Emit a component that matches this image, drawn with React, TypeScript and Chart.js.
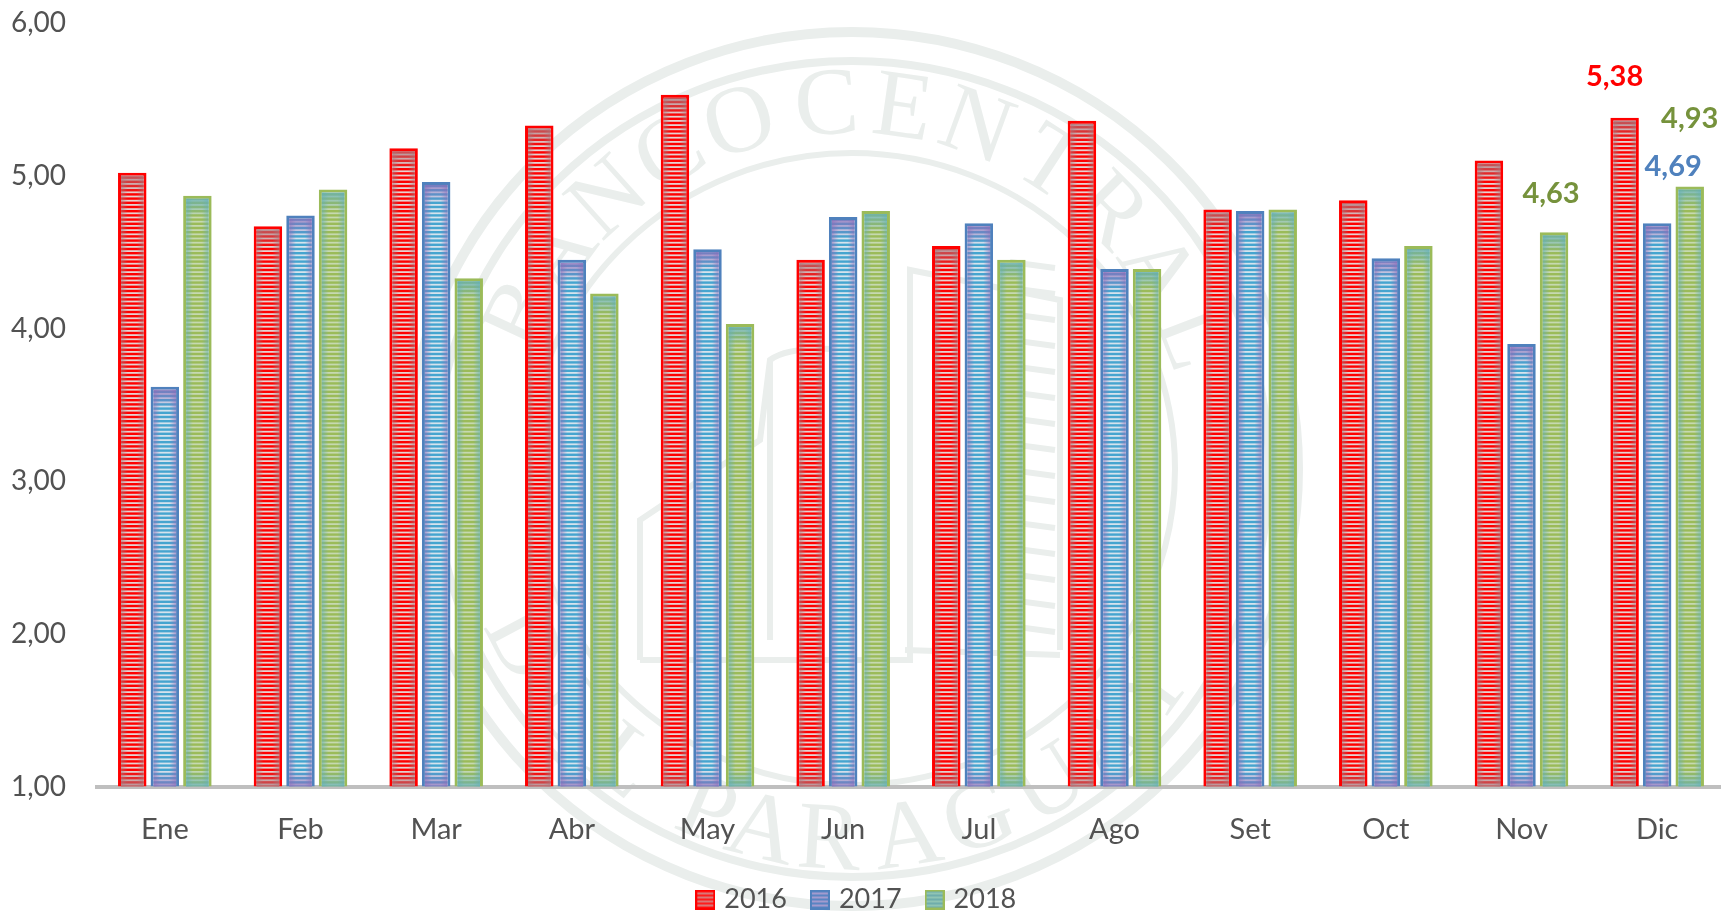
import React, { useEffect, useRef } from "react";
import { Chart, registerables } from "chart.js";

Chart.register(...registerables);

const categories = ["Ene", "Feb", "Mar", "Abr", "May", "Jun", "Jul", "Ago", "Set", "Oct", "Nov", "Dic"];
const years = ["2016", "2017", "2018"];
const values2016 = [5.02, 4.67, 5.18, 5.33, 5.53, 4.45, 4.54, 5.36, 4.78, 4.84, 5.10, 5.38];
const values2017 = [3.62, 4.74, 4.96, 4.45, 4.52, 4.73, 4.69, 4.39, 4.77, 4.46, 3.90, 4.69];
const values2018 = [4.87, 4.91, 4.33, 4.23, 4.03, 4.77, 4.45, 4.39, 4.78, 4.54, 4.63, 4.93];
const yTicks = [1, 2, 3, 4, 5, 6];

const palette = [
  { border: "#ff0000", stripe: "#ff0000", light: "#e6d2d2", shade: "170,120,125", swatch: "#ff1c1c", swatchLine: "#d87878" },
  { border: "#4f81bd", stripe: "#45a5cf", light: "#d5e3ed", shade: "140,110,185", swatch: "#5a84c2", swatchLine: "#a39bce" },
  { border: "#9bbb59", stripe: "#9bbb59", light: "#c6d9b0", shade: "100,175,185", swatch: "#6fadab", swatchLine: "#8fc4b4" },
];

const callouts = [
  { dataset: 0, index: 11, dx: -10, dy: -41, color: "#ff0000" },
  { dataset: 2, index: 11, dx: 0, dy: -68, color: "#76923c" },
  { dataset: 1, index: 11, dx: 16, dy: -57, color: "#4f81bd" },
  { dataset: 2, index: 10, dx: -3, dy: -39, color: "#76923c" },
];

const sealTop = [["B", -65], ["A", -54], ["N", -42], ["C", -30], ["O", -18], ["C", -4], ["E", 8], ["N", 20], ["T", 33], ["R", 45], ["A", 57], ["L", 69]];
const sealBottom = [["D", -62], ["E", -50], ["L", -38], ["P", -23], ["A", -14], ["R", -3.5], ["A", 8.6], ["G", 20], ["U", 32], ["A", 43], ["Y", 54]];

const fmt = (v: number) => v.toFixed(2).replace(".", ",");

function stripePattern(stripe: string, light: string) {
  const c = document.createElement("canvas");
  c.width = 4;
  c.height = 21;
  const g = c.getContext("2d")!;
  g.fillStyle = light;
  g.fillRect(0, 0, 4, 21);
  g.fillStyle = stripe;
  for (let i = 0; i < 5; i++) g.fillRect(0, i * 4.2, 4, 2.4);
  return g.createPattern(c, "repeat")!;
}

function legendSwatch(p: (typeof palette)[number]) {
  const c = document.createElement("canvas");
  c.width = 20;
  c.height = 20;
  const g = c.getContext("2d")!;
  g.fillStyle = p.swatch;
  g.fillRect(0, 0, 20, 20);
  g.fillStyle = p.swatchLine;
  for (let y = 3; y < 18; y += 4) g.fillRect(2, y, 16, 2);
  g.strokeStyle = p.border;
  g.lineWidth = 2;
  g.strokeRect(1, 1, 18, 18);
  return c;
}

const legendShift = {
  id: "legendShift",
  afterLayout(chart: any) {
    chart.legend.right = chart.width - 9;
  },
};

const barShading = {
  id: "barShading",
  afterDatasetsDraw(chart: any) {
    const { ctx } = chart;
    chart.data.datasets.forEach((_: any, di: number) => {
      const shade = palette[di].shade;
      chart.getDatasetMeta(di).data.forEach((bar: any) => {
        const left = bar.x - bar.width / 2 + 3;
        const w = bar.width - 6;
        const top = bar.y + 3;
        const h = bar.base - top;
        ctx.save();
        const gx = ctx.createLinearGradient(left, 0, left + w, 0);
        gx.addColorStop(0, `rgba(${shade},0.6)`);
        gx.addColorStop(0.3, `rgba(${shade},0)`);
        gx.addColorStop(0.7, `rgba(${shade},0)`);
        gx.addColorStop(1, `rgba(${shade},0.6)`);
        ctx.fillStyle = gx;
        ctx.fillRect(left, top, w, h);
        const gTop = ctx.createLinearGradient(0, top, 0, top + 18);
        gTop.addColorStop(0, `rgba(${shade},0.75)`);
        gTop.addColorStop(1, `rgba(${shade},0)`);
        ctx.fillStyle = gTop;
        ctx.fillRect(left, top, w, 18);
        const gBot = ctx.createLinearGradient(0, bar.base - 16, 0, bar.base);
        gBot.addColorStop(0, `rgba(${shade},0)`);
        gBot.addColorStop(1, `rgba(${shade},0.75)`);
        ctx.fillStyle = gBot;
        ctx.fillRect(left, bar.base - 16, w, 16);
        ctx.restore();
      });
    });
  },
};

const calloutLabels = {
  id: "calloutLabels",
  afterDatasetsDraw(chart: any) {
    const { ctx } = chart;
    ctx.save();
    ctx.font = "bold 29px Lato";
    ctx.textAlign = "center";
    ctx.textBaseline = "middle";
    callouts.forEach((c) => {
      const bar = chart.getDatasetMeta(c.dataset).data[c.index];
      ctx.fillStyle = c.color;
      ctx.fillText(fmt(chart.data.datasets[c.dataset].data[c.index]), bar.x + c.dx, bar.y + c.dy);
    });
    ctx.restore();
  },
};

function Seal() {
  const cx = 852;
  const cy = 469;
  const ink = "#eaeeec";
  const rungs = [];
  for (let y = 262; y < 640; y += 26) rungs.push(y);
  return (
    <svg width={1721} height={913} style={{ position: "absolute", left: 0, top: 0 }}>
      <ellipse cx={cx} cy={cy} rx={446} ry={437} fill="none" stroke={ink} strokeWidth={10} />
      <ellipse cx={cx} cy={cy} rx={417} ry={408} fill="none" stroke={ink} strokeWidth={8} />
      <ellipse cx={cx} cy={cy} rx={323} ry={316} fill="none" stroke={ink} strokeWidth={6} />
      <g fill={ink} fontFamily="Liberation Serif" fontSize={96}>
        {sealTop.map(([ch, a], i) => (
          <text key={i} textAnchor="middle" transform={`translate(${cx} ${cy}) rotate(${a}) translate(0 -336)`}>{ch}</text>
        ))}
        {sealBottom.map(([ch, a], i) => (
          <text key={i} textAnchor="middle" transform={`translate(${cx} ${cy}) rotate(${-(a as number)}) translate(0 400)`}>{ch}</text>
        ))}
      </g>
      <g fill="none" stroke={ink} strokeWidth={6}>
        <path d="M 640 660 L 640 520 L 760 440 L 770 360 Q 790 345 850 350" />
        <path d="M 640 660 L 910 660 L 910 270 L 1060 300 L 1060 650" />
        <path d="M 905 650 L 1060 655" />
        {rungs.map((y) => (
          <path key={y} d={`M 1010 ${y} L 1055 ${y + 6}`} />
        ))}
        <path d="M 770 360 L 770 640" />
      </g>
    </svg>
  );
}

export default function App() {
  const ref = useRef<HTMLCanvasElement>(null);
  useEffect(() => {
    const series = [values2016, values2017, values2018];
    const swatches = palette.map(legendSwatch);
    const chart = new Chart(ref.current!, {
      type: "bar",
      data: {
        labels: categories,
        datasets: years.map((y, i) => ({
          label: y,
          data: series[i],
          base: yTicks[0],
          backgroundColor: stripePattern(palette[i].stripe, palette[i].light),
          borderColor: palette[i].border,
          borderWidth: 3,
          categoryPercentage: 0.72,
          barPercentage: 0.875,
        })),
      },
      options: {
        responsive: false,
        animation: false,
        events: [],
        layout: { padding: { top: 23, left: 0, right: 0, bottom: 0 } },
        scales: {
          x: {
            z: 1,
            grid: { display: false, drawTicks: false },
            border: { display: true, color: "#bfbfbf", width: 4 },
            ticks: { color: "#525252", font: { family: "Lato", size: 29 }, padding: 25, maxRotation: 0, autoSkip: false },
            afterFit: (s: any) => { s.height = 71.5; },
          },
          y: {
            min: yTicks[0],
            max: yTicks[yTicks.length - 1],
            afterBuildTicks: (s: any) => { s.ticks = yTicks.map((value) => ({ value })); },
            grid: { display: true, drawOnChartArea: false, drawTicks: true, tickLength: 31, color: "transparent" },
            border: { display: false },
            ticks: { color: "#525252", font: { family: "Lato", size: 28 }, padding: 0, callback: (v: any) => fmt(Number(v)) },
            afterFit: (s: any) => { s.width = 97; },
          },
        },
        plugins: {
          title: { display: false },
          tooltip: { enabled: false },
          legend: {
            position: "bottom",
            labels: {
              color: "#525252",
              font: { family: "Lato", size: 27 },
              usePointStyle: true,
              pointStyleWidth: 11,
              padding: 27.5,
              generateLabels: (c: any) =>
                Chart.defaults.plugins.legend.labels.generateLabels(c).map((item: any, i: number) => ({
                  ...item,
                  pointStyle: swatches[i],
                })),
            },
          },
        },
      },
      plugins: [legendShift, barShading, calloutLabels],
    } as any);
    return () => chart.destroy();
  }, []);
  return (
    <div style={{ position: "fixed", left: 0, top: 0, width: 1721, height: 913, overflow: "hidden", background: "#fff" }}>
      <Seal />
      <canvas ref={ref} width={1725} height={923} style={{ position: "absolute", left: 0, top: 0 }} />
    </div>
  );
}
